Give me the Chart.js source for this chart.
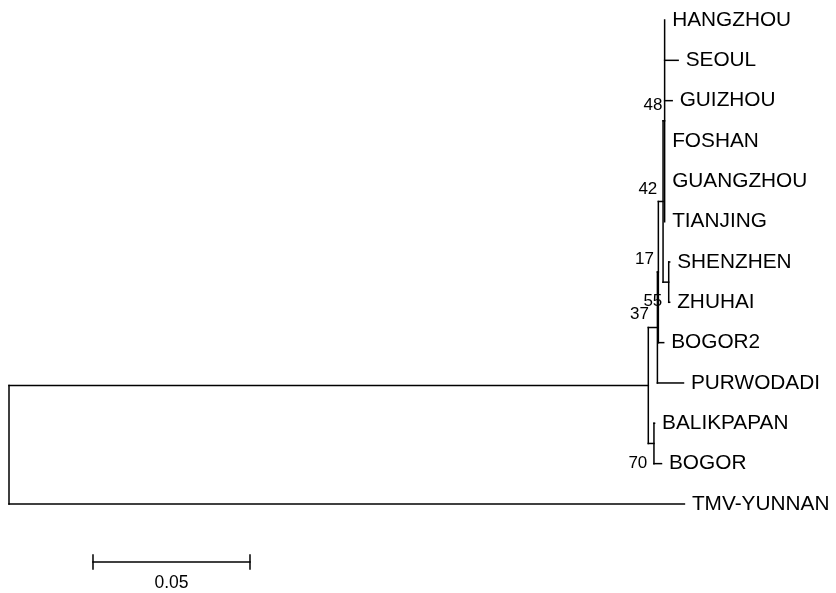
<!DOCTYPE html>
<html>
<head>
<meta charset="utf-8">
<script src="https://cdn.jsdelivr.net/npm/chart.js@4.4.1/dist/chart.umd.min.js"></script>
<style>
  html, body { margin: 0; padding: 0; background: #ffffff; }
  #wrap { width: 836px; height: 593px; }
</style>
</head>
<body>
<div id="wrap"><canvas id="c" width="836" height="593"></canvas></div>
<script>
// ---- Tree data (branch lengths in substitutions per site) ----
const taxa = ['HANGZHOU','SEOUL','GUIZHOU','FOSHAN','GUANGZHOU','TIANJING','SHENZHEN','ZHUHAI','BOGOR2','PURWODADI','BALIKPAPAN','BOGOR','TMV-YUNNAN'];
const taxonParent = ['C1','C1','C1','C1','C1','C1','SZZH','SZZH','N55','N37','N70','N70','root'];
const taxonBranch = [0, 0.0043, 0.0024, 0, 0, 0, 0.0003, 0.0003, 0.0017, 0.0083, 0.0002, 0.0024, 0.2151];

const cladeIds    = ['root','ingroup','N37','N55','N17','C1','SZZH','N70'];
const cladeParent = [null, 'root','ingroup','N37','N55','N17','N17','ingroup'];
const cladeBranch = [0, 0.2036, 0.0029, 0.0003, 0.0015, 0.0005, 0.0018, 0.0018];

// bootstrap support values and where they sit (x in substitutions/site, y in taxon rows)
const supportValues = ['48','42','17','55','37','70'];
const supportX      = [0.20812, 0.20646, 0.20541, 0.20806, 0.20382, 0.20328];
const supportRow    = [2.12, 4.19, 5.93, 6.97, 7.29, 10.99];

const scaleBarLength = 0.05;
const scaleBarLabel = '0.05';

// ---- layout helpers (scale setup) ----
const PX_PER_UNIT = 3140;
const ROW_PX = 40.33;
const X0_PX = 9, Y0_PX = 20;
const W = 836, H = 593;
const xMin = -X0_PX / PX_PER_UNIT, xMax = (W - X0_PX) / PX_PER_UNIT;
const yMin = -Y0_PX / ROW_PX, yMax = yMin + H / ROW_PX;
const scaleBarX0 = 0.02675, scaleBarRow = 13.44;

// ---- compute node positions ----
const nodeX = {}, nodeY = {};
cladeIds.forEach((id, i) => {
  nodeX[id] = cladeParent[i] === null ? 0 : nodeX[cladeParent[i]] + cladeBranch[i];
});
const leafX = taxa.map((t, i) => nodeX[taxonParent[i]] + taxonBranch[i]);
const leafY = taxa.map((t, i) => i);

const childrenY = {};
function cladeY(id) {
  if (nodeY[id] !== undefined) return nodeY[id];
  const ys = [];
  taxa.forEach((t, i) => { if (taxonParent[i] === id) ys.push(leafY[i]); });
  cladeIds.forEach((c, i) => { if (cladeParent[i] === id) ys.push(cladeY(c)); });
  childrenY[id] = ys;
  nodeY[id] = (Math.min(...ys) + Math.max(...ys)) / 2;
  return nodeY[id];
}
cladeIds.forEach(cladeY);

const segments = [];
// horizontal branches
taxa.forEach((t, i) => {
  if (taxonBranch[i] > 0) segments.push([{x: nodeX[taxonParent[i]], y: leafY[i]}, {x: leafX[i], y: leafY[i]}]);
});
cladeIds.forEach((id, i) => {
  if (cladeParent[i] !== null && cladeBranch[i] > 0)
    segments.push([{x: nodeX[cladeParent[i]], y: nodeY[id]}, {x: nodeX[id], y: nodeY[id]}]);
});
// vertical connectors
cladeIds.forEach(id => {
  const ys = childrenY[id];
  segments.push([{x: nodeX[id], y: Math.min(...ys)}, {x: nodeX[id], y: Math.max(...ys)}]);
});
// scale bar
const tickRows = 7 / ROW_PX;
segments.push([{x: scaleBarX0, y: scaleBarRow}, {x: scaleBarX0 + scaleBarLength, y: scaleBarRow}]);
segments.push([{x: scaleBarX0, y: scaleBarRow - tickRows}, {x: scaleBarX0, y: scaleBarRow + tickRows}]);
segments.push([{x: scaleBarX0 + scaleBarLength, y: scaleBarRow - tickRows}, {x: scaleBarX0 + scaleBarLength, y: scaleBarRow + tickRows}]);

const datasets = segments.map(s => ({
  data: s,
  showLine: true,
  borderColor: '#000000',
  borderWidth: 1.5,
  borderCapStyle: 'square',
  pointRadius: 0,
  pointHoverRadius: 0,
  fill: false
}));

const textPlugin = {
  id: 'treeText',
  afterDatasetsDraw(chart) {
    const ctx = chart.ctx;
    const xs = chart.scales.x, ys = chart.scales.y;
    ctx.save();
    ctx.fillStyle = '#000000';
    ctx.textBaseline = 'middle';
    // taxon labels
    ctx.font = '20.8px "Liberation Sans", Arial, sans-serif';
    ctx.textAlign = 'left';
    taxa.forEach((t, i) => {
      ctx.fillText(t, xs.getPixelForValue(leafX[i]) + 7.5, ys.getPixelForValue(leafY[i]));
    });
    // support values
    ctx.font = '17px "Liberation Sans", Arial, sans-serif';
    ctx.textAlign = 'right';
    supportValues.forEach((v, i) => {
      ctx.fillText(v, xs.getPixelForValue(supportX[i]), ys.getPixelForValue(supportRow[i]));
    });
    // scale bar label
    ctx.font = '17.5px "Liberation Sans", Arial, sans-serif';
    ctx.textAlign = 'center';
    ctx.fillText(scaleBarLabel,
      xs.getPixelForValue(scaleBarX0 + scaleBarLength / 2),
      ys.getPixelForValue(scaleBarRow) + 21);
    ctx.restore();
  }
};

new Chart(document.getElementById('c'), {
  type: 'scatter',
  data: { datasets },
  options: {
    responsive: false,
    animation: false,
    devicePixelRatio: 1,
    layout: { padding: 0 },
    plugins: { legend: { display: false }, tooltip: { enabled: false } },
    events: [],
    scales: {
      x: { type: 'linear', min: xMin, max: xMax, display: false },
      y: { type: 'linear', min: yMin, max: yMax, reverse: true, display: false }
    }
  },
  plugins: [textPlugin]
});
</script>
</body>
</html>
